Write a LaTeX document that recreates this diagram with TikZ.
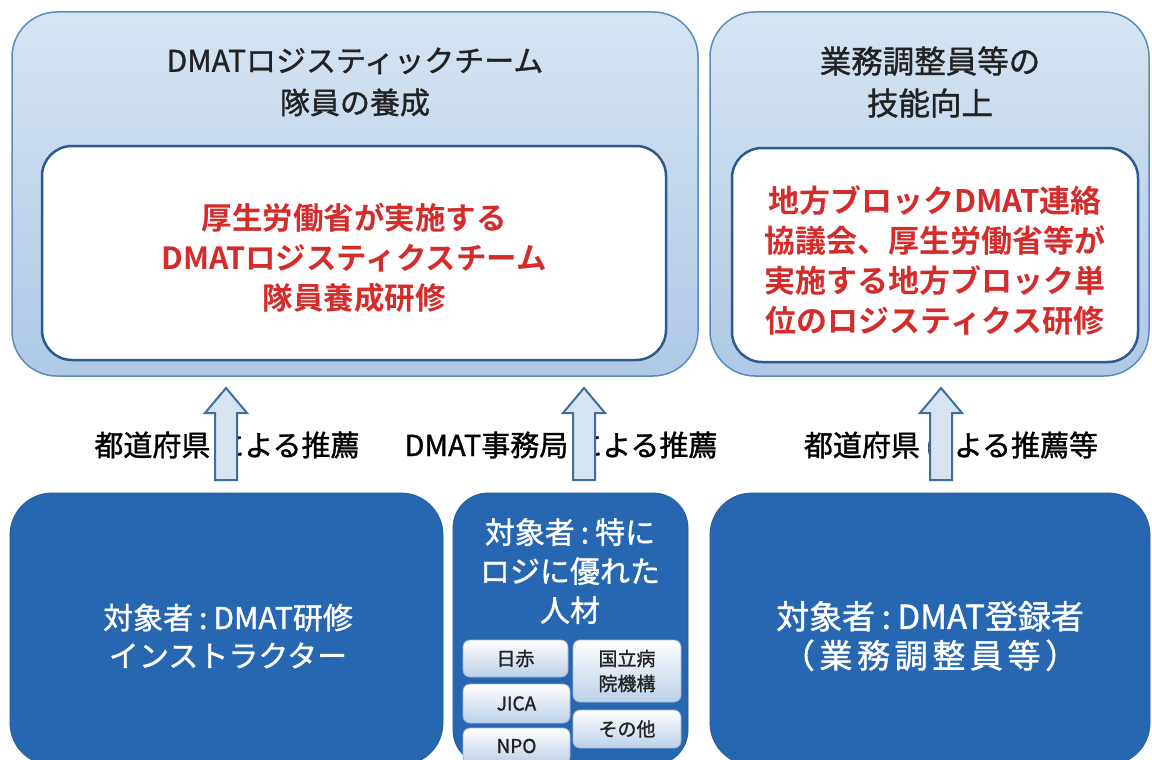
\documentclass[tikz,border=0pt]{standalone}
\usepackage{fontspec}
\setmainfont{Noto Sans CJK JP}[BoldFont={Noto Sans CJK JP Bold}]
\newfontfamily\medfont{Noto Sans CJK JP}[FakeBold=1.2]
\newfontfamily\widefont{Noto Sans CJK JP}[FakeBold=1.2,LetterSpace=14]
\usetikzlibrary{calc}
\definecolor{outerline}{HTML}{5B8AC0}
\definecolor{outertop}{HTML}{D6E4F2}
\definecolor{outerbot}{HTML}{AFC9E6}
\definecolor{innerline}{HTML}{2C5A8E}
\definecolor{redtxt}{HTML}{D42B2B}
\definecolor{darkbox}{HTML}{2767B1}
\definecolor{arrline}{HTML}{3F6E9E}
\definecolor{arrfill}{HTML}{D6E4F1}
\definecolor{smallline}{HTML}{9DB6D6}
\definecolor{smallbot}{HTML}{BCD0E8}
\definecolor{txtdark}{HTML}{222222}
\tikzset{
  outerbox/.style={draw=outerline, line width=1.5pt, rounded corners=45pt, top color=outertop, bottom color=outerbot, inner sep=0pt},
  innerbox/.style={draw=innerline, line width=2.5pt, fill=white, rounded corners=30pt, inner sep=0pt},
  darkbx/.style={fill=darkbox, draw=darkbox!85!black, line width=0.8pt, rounded corners=42pt, inner sep=0pt},
  smallbx/.style={draw=smallline, line width=0.8pt, top color=white, bottom color=smallbot, rounded corners=7pt, inner sep=0pt, text=txtdark, font=\medfont\fontsize{19}{25}\selectfont, align=center},
  titletxt/.style={text=txtdark, align=center, font=\medfont\fontsize{30}{42}\selectfont},
  redt/.style={text=redtxt, align=center, font=\bfseries\fontsize{30.5}{40}\selectfont},
  whitet/.style={text=white, align=center, font=\medfont\fontsize{30}{38}\selectfont},
  labelt/.style={text=black, font=\medfont\fontsize{29}{36}\selectfont},
  blockarr/.style={draw=arrline, line width=2pt, fill=arrfill, line join=miter},
}
\newcommand\blkarrow[2]{% #1 bottom coord, #2 tip coord
  \path[blockarr] ($(#1)+(-11,0)$) -- ($(#2)+(-11,25)$) -- ($(#2)+(-21,25)$) -- (#2) -- ($(#2)+(21,25)$) -- ($(#2)+(11,25)$) -- ($(#1)+(11,0)$) -- cycle;}
\newcommand\cln{\hspace{0.2em}:\hspace{0.2em}}
\begin{document}
\begin{tikzpicture}[x=1pt,y=-1pt]
\useasboundingbox[fill=white] (0,0) rectangle (1152,760);
% top boxes
\node[outerbox, minimum width=686pt, minimum height=364pt] (TL) at (355,194) {};
\node[innerbox, minimum width=624pt, minimum height=214pt] (TLi) at (354,253) {};
\node[outerbox, minimum width=439pt, minimum height=364pt] (TR) at (929.5,194) {};
\node[innerbox, minimum width=406pt, minimum height=214pt] (TRi) at (935,255) {};
\node[titletxt] (TLt) at (355,82) {DMATロジスティックチーム\\隊員の養成};
\node[titletxt, font=\medfont\fontsize{31.5}{42}\selectfont] (TRt) at (930,82) {業務調整員等の\\技能向上};
\node[redt] (TLr) at (354,258) {厚生労働省が実施する\\DMATロジスティクスチーム\\隊員養成研修};
\node[redt, font=\bfseries\fontsize{31}{40}\selectfont] (TRr) at (935,261) {地方ブロックDMAT連絡\\協議会、厚生労働省等が\\実施する地方ブロック単\\位のロジスティクス研修};
% bottom boxes
\node[darkbx, minimum width=433pt, minimum height=272pt] (BL) at (226.5,629) {};
\node[darkbx, rounded corners=35pt, minimum width=235pt, minimum height=272pt] (BM) at (570.5,629) {};
\node[darkbx, minimum width=440pt, minimum height=272pt] (BR) at (930,629) {};
\node[whitet] (BLt) at (228,636) {対象者\cln DMAT研修\\インストラクター};
\node[whitet, font=\medfont\fontsize{30}{39}\selectfont] (BMt) at (570,571) {対象者\cln 特に\\ロジに優れた\\人材};
\node[whitet, font=\medfont\fontsize{33}{39}\selectfont] (BRt) at (930,636) {対象者\cln DMAT登録者\\{\widefont（業務調整員等）}};
% small boxes
\node[smallbx, minimum width=105pt, minimum height=37pt] (s1) at (515.5,658.5) {日赤};
\node[smallbx, minimum width=107pt, minimum height=39pt] (s2) at (516.5,703.5) {JICA};
\node[smallbx, minimum width=107pt, minimum height=36pt] (s3) at (516.5,746) {NPO};
\node[smallbx, minimum width=108pt, minimum height=62pt] (s4) at (627,671) {国立病\\院機構};
\node[smallbx, minimum width=108pt, minimum height=38pt] (s5) at (627,729) {その他};
% labels
\node[labelt] (L1) at (227,445) {都道府県\hspace{5pt}による推薦};
\node[labelt] (L2) at (561,445) {DMAT事務局\hspace{5pt}による推薦};
\node[labelt] (L3) at (951,445) {都道府県\hspace{5pt}による推薦等};
% arrows
\coordinate (a1b) at (226,480); \coordinate (a1t) at (226,388);
\coordinate (a2b) at (584,480); \coordinate (a2t) at (584,388);
\coordinate (a3b) at (941,480); \coordinate (a3t) at (941,388);
\blkarrow{a1b}{a1t}
\blkarrow{a2b}{a2t}
\blkarrow{a3b}{a3t}
\end{tikzpicture}
\end{document}
